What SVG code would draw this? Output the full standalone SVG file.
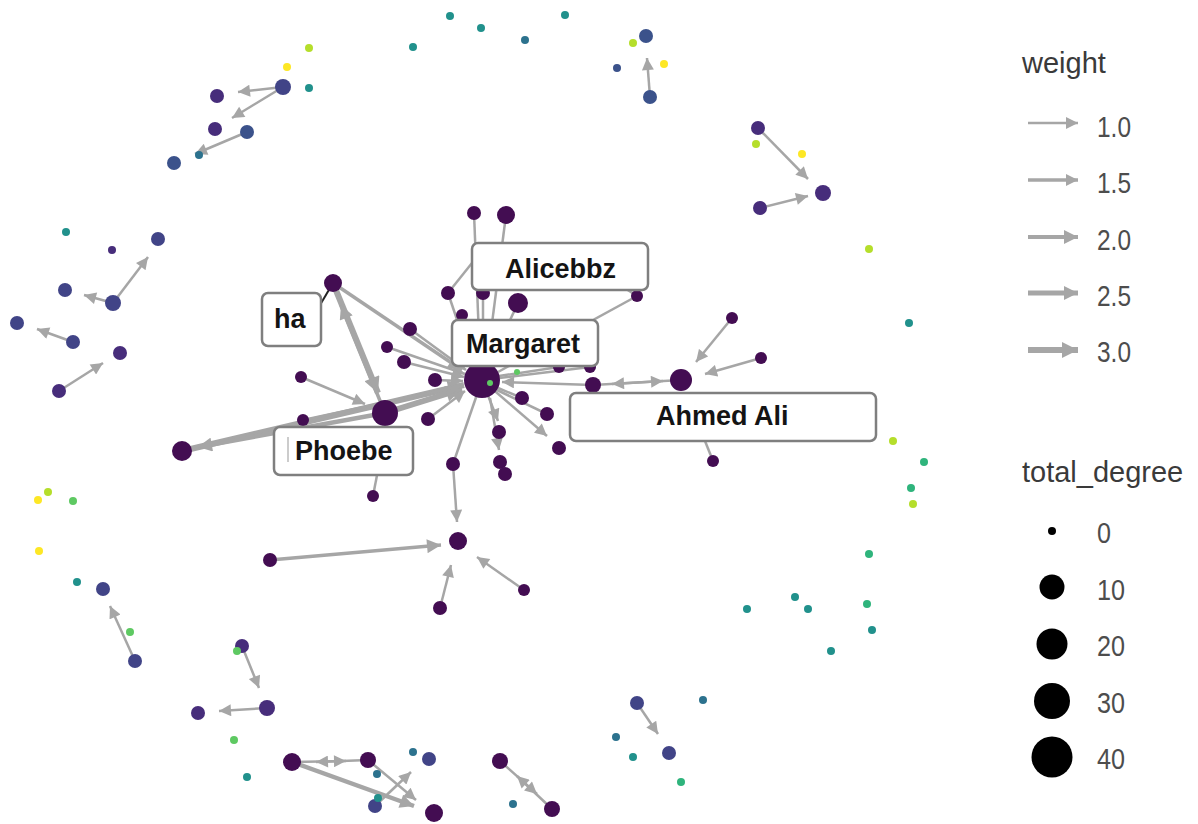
<svg xmlns="http://www.w3.org/2000/svg" width="1198" height="824" viewBox="0 0 1198 824">
<style>
.e{stroke:#a6a6a6;fill:none;stroke-linecap:butt}
.w1{stroke-width:2.5}
.w2{stroke-width:3.5}
.w3{stroke-width:4.5}
.w4{stroke-width:6}
.dp{fill:#430d52}
.pb{fill:#472d7b}
.b2{fill:#414487}
.bl{fill:#3b528b}
.tb{fill:#2c728e}
.tl{fill:#21918c}
.gt{fill:#2fb47c}
.gr{fill:#5ec962}
.yg{fill:#b5de2b}
.yl{fill:#fde725}
.lbl rect{fill:#fff;stroke:#7f7f7f;stroke-width:2.5}
.lbl text{font-family:"Liberation Sans",Arial,sans-serif;font-weight:bold;font-size:27px;fill:#141414}
.lt{font-family:"Liberation Sans",Arial,sans-serif;font-size:29px;fill:#3a3a3a}
.lv{font-family:"Liberation Sans",Arial,sans-serif;font-size:29px;fill:#4d4d4d}
</style>
<defs>
<marker id="a1" viewBox="0 0 10 10" refX="10" refY="5" markerWidth="13" markerHeight="12" markerUnits="userSpaceOnUse" orient="auto"><path d="M0,0 L10,5 L0,10 Z" fill="#a6a6a6"/></marker>
<marker id="a2" viewBox="0 0 10 10" refX="10" refY="5" markerWidth="15" markerHeight="14" markerUnits="userSpaceOnUse" orient="auto"><path d="M0,0 L10,5 L0,10 Z" fill="#a6a6a6"/></marker>
<marker id="a3" viewBox="0 0 10 10" refX="10" refY="5" markerWidth="17" markerHeight="16" markerUnits="userSpaceOnUse" orient="auto"><path d="M0,0 L10,5 L0,10 Z" fill="#a6a6a6"/></marker>
</defs>
<rect width="1198" height="824" fill="#fff"/>
<g id="edges">
<line class="e w1" x1="283" y1="87" x2="238" y2="92" marker-end="url(#a1)"/>
<line class="e w1" x1="283" y1="87" x2="232" y2="118" marker-end="url(#a1)"/>
<line class="e w1" x1="247" y1="132" x2="195" y2="154" marker-end="url(#a1)"/>
<line class="e w1" x1="650" y1="97" x2="647" y2="58" marker-end="url(#a1)"/>
<line class="e w1" x1="758" y1="128" x2="808" y2="179" marker-end="url(#a1)"/>
<line class="e w1" x1="760" y1="208" x2="808" y2="196" marker-end="url(#a1)"/>
<line class="e w1" x1="113" y1="303" x2="148" y2="257" marker-end="url(#a1)"/>
<line class="e w1" x1="113" y1="303" x2="84" y2="295" marker-end="url(#a1)"/>
<line class="e w1" x1="73" y1="342" x2="37" y2="329" marker-end="url(#a1)"/>
<line class="e w1" x1="59" y1="391" x2="103" y2="363" marker-end="url(#a1)"/>
<line class="e w1" x1="135" y1="661" x2="110" y2="606" marker-end="url(#a1)"/>
<line class="e w1" x1="242" y1="646" x2="259" y2="688" marker-end="url(#a1)"/>
<line class="e w1" x1="267" y1="708" x2="219" y2="711" marker-end="url(#a1)"/>
<line class="e w1" x1="368" y1="760" x2="316" y2="762" marker-end="url(#a1)"/>
<line class="e w1" x1="292" y1="762" x2="346" y2="761" marker-end="url(#a1)"/>
<line class="e w3" x1="292" y1="762" x2="414" y2="806" marker-end="url(#a2)"/>
<line class="e w1" x1="368" y1="760" x2="416" y2="800" marker-end="url(#a1)"/>
<line class="e w1" x1="375" y1="806" x2="411" y2="772" marker-end="url(#a1)"/>
<line class="e w1" x1="500" y1="761" x2="537" y2="794" marker-end="url(#a1)"/>
<line class="e w1" x1="552" y1="809" x2="517" y2="776" marker-end="url(#a1)"/>
<line class="e w1" x1="637" y1="703" x2="658" y2="734" marker-end="url(#a1)"/>
<line class="e w2" x1="270" y1="560" x2="441" y2="545" marker-end="url(#a2)"/>
<line class="e w1" x1="440" y1="608" x2="451" y2="565" marker-end="url(#a1)"/>
<line class="e w1" x1="524" y1="590" x2="477" y2="557" marker-end="url(#a1)"/>
<line class="e w1" x1="482" y1="380" x2="453" y2="464"/>
<line class="e w1" x1="453" y1="464" x2="457" y2="522" marker-end="url(#a1)"/>
<line class="e w1" x1="732" y1="318" x2="696" y2="362" marker-end="url(#a1)"/>
<line class="e w1" x1="761" y1="358" x2="705" y2="374" marker-end="url(#a1)"/>
<line class="e w1" x1="593" y1="385" x2="663" y2="381" marker-end="url(#a1)"/>
<line class="e w1" x1="681" y1="380" x2="612" y2="384" marker-end="url(#a1)"/>
<line class="e w4" x1="333" y1="283" x2="378" y2="393" marker-end="url(#a3)"/>
<line class="e w2" x1="385" y1="413" x2="341" y2="305" marker-end="url(#a2)"/>
<line class="e w2" x1="333" y1="283" x2="462" y2="370" marker-end="url(#a2)"/>
<line class="e w4" x1="182" y1="451" x2="464" y2="385" marker-end="url(#a3)"/>
<line class="e w3" x1="385" y1="413" x2="198" y2="447" marker-end="url(#a2)"/>
<line class="e w4" x1="385" y1="413" x2="462" y2="389" marker-end="url(#a3)"/>
<line class="e w1" x1="301" y1="377" x2="365" y2="404" marker-end="url(#a1)"/>
<line class="e w1" x1="303" y1="420" x2="462" y2="386" marker-end="url(#a1)"/>
<line class="e w1" x1="410" y1="329" x2="466" y2="370" marker-end="url(#a1)"/>
<line class="e w1" x1="387" y1="347" x2="465" y2="374" marker-end="url(#a1)"/>
<line class="e w1" x1="404" y1="362" x2="464" y2="377" marker-end="url(#a1)"/>
<line class="e w1" x1="435" y1="380" x2="463" y2="381" marker-end="url(#a1)"/>
<line class="e w1" x1="428" y1="419" x2="465" y2="391" marker-end="url(#a1)"/>
<line class="e w1" x1="448" y1="293" x2="472" y2="263"/>
<line class="e w1" x1="448" y1="293" x2="472" y2="364" marker-end="url(#a1)"/>
<line class="e w1" x1="474" y1="213" x2="480" y2="362" marker-end="url(#a1)"/>
<line class="e w1" x1="506" y1="215" x2="487" y2="362" marker-end="url(#a1)"/>
<line class="e w1" x1="518" y1="303" x2="490" y2="363"/>
<line class="e w1" x1="462" y1="315" x2="478" y2="363"/>
<line class="e w1" x1="483" y1="293" x2="483" y2="362"/>
<line class="e w1" x1="637" y1="296" x2="498" y2="372"/>
<line class="e w1" x1="637" y1="296" x2="623" y2="287"/>
<line class="e w1" x1="559" y1="367" x2="499" y2="376"/>
<line class="e w1" x1="590" y1="367" x2="499" y2="378"/>
<line class="e w1" x1="593" y1="385" x2="502" y2="382" marker-end="url(#a1)"/>
<line class="e w1" x1="522" y1="398" x2="498" y2="388"/>
<line class="e w1" x1="547" y1="414" x2="497" y2="390"/>
<line class="e w1" x1="482" y1="380" x2="547" y2="436" marker-end="url(#a1)"/>
<line class="e w1" x1="482" y1="380" x2="498" y2="421" marker-end="url(#a1)"/>
<line class="e w1" x1="490" y1="398" x2="499" y2="450" marker-end="url(#a1)"/>
<line class="e w1" x1="373" y1="496" x2="378" y2="470"/>
<line class="e w1" x1="713" y1="461" x2="705" y2="441"/>
<line x1="333" y1="283" x2="320" y2="305" stroke="#222" stroke-width="2"/>
</g>
<g id="nodes">
<g id="n1"><circle class="tl" cx="450" cy="16" r="4"/></g>
<g id="n2"><circle class="tl" cx="565" cy="15" r="4"/></g>
<g id="n3"><circle class="tl" cx="481" cy="28" r="4"/></g>
<g id="n4"><circle class="tl" cx="413" cy="47" r="4"/></g>
<g id="n5"><circle class="tb" cx="525" cy="40" r="4"/></g>
<g id="n6"><circle class="yg" cx="309" cy="48" r="4"/></g>
<g id="n7"><circle class="yl" cx="287" cy="67" r="4"/></g>
<g id="n8"><circle class="b2" cx="283" cy="87" r="8"/></g>
<g id="n9"><circle class="tl" cx="309" cy="88" r="4"/></g>
<g id="n10"><circle class="pb" cx="217" cy="96" r="7"/></g>
<g id="n11"><circle class="pb" cx="215" cy="129" r="7"/></g>
<g id="n12"><circle class="bl" cx="247" cy="132" r="7"/></g>
<g id="n13"><circle class="tb" cx="199" cy="155" r="4"/></g>
<g id="n14"><circle class="bl" cx="174" cy="163" r="7"/></g>
<g id="n15"><circle class="bl" cx="646" cy="36" r="7"/></g>
<g id="n16"><circle class="yg" cx="633" cy="43" r="4"/></g>
<g id="n17"><circle class="bl" cx="617" cy="68" r="4"/></g>
<g id="n18"><circle class="yl" cx="664" cy="64" r="4"/></g>
<g id="n19"><circle class="bl" cx="650" cy="97" r="7"/></g>
<g id="n20"><circle class="pb" cx="758" cy="128" r="7"/></g>
<g id="n21"><circle class="yg" cx="756" cy="144" r="4"/></g>
<g id="n22"><circle class="yl" cx="802" cy="154" r="4"/></g>
<g id="n23"><circle class="pb" cx="823" cy="193" r="8"/></g>
<g id="n24"><circle class="pb" cx="760" cy="208" r="7"/></g>
<g id="n25"><circle class="yg" cx="869" cy="249" r="4"/></g>
<g id="n26"><circle class="tl" cx="66" cy="232" r="4"/></g>
<g id="n27"><circle class="pb" cx="112" cy="250" r="4"/></g>
<g id="n28"><circle class="b2" cx="158" cy="239" r="7"/></g>
<g id="n29"><circle class="b2" cx="65" cy="290" r="7"/></g>
<g id="n30"><circle class="b2" cx="113" cy="303" r="8"/></g>
<g id="n31"><circle class="b2" cx="17" cy="323" r="7"/></g>
<g id="n32"><circle class="b2" cx="73" cy="342" r="7"/></g>
<g id="n33"><circle class="pb" cx="120" cy="353" r="7"/></g>
<g id="n34"><circle class="pb" cx="59" cy="391" r="7"/></g>
<g id="n35"><circle class="dp" cx="182" cy="451" r="10"/></g>
<g id="n36"><circle class="yg" cx="48" cy="492" r="4"/></g>
<g id="n37"><circle class="yl" cx="38" cy="500" r="4"/></g>
<g id="n38"><circle class="gr" cx="73" cy="501" r="4"/></g>
<g id="n39"><circle class="yl" cx="39" cy="551" r="4"/></g>
<g id="n40"><circle class="tl" cx="77" cy="582" r="4"/></g>
<g id="n41"><circle class="b2" cx="103" cy="589" r="7"/></g>
<g id="n42"><circle class="gr" cx="130" cy="632" r="4"/></g>
<g id="n43"><circle class="b2" cx="135" cy="661" r="7"/></g>
<g id="n44"><circle class="pb" cx="242" cy="646" r="7"/></g>
<g id="n45"><circle class="gr" cx="237" cy="651" r="4"/></g>
<g id="n46"><circle class="pb" cx="267" cy="708" r="8"/></g>
<g id="n47"><circle class="pb" cx="198" cy="713" r="7"/></g>
<g id="n48"><circle class="gr" cx="234" cy="740" r="4"/></g>
<g id="n49"><circle class="tl" cx="247" cy="777" r="4"/></g>
<g id="n50"><circle class="dp" cx="292" cy="762" r="9"/></g>
<g id="n51"><circle class="dp" cx="368" cy="760" r="8"/></g>
<g id="n52"><circle class="tb" cx="413" cy="752" r="4"/></g>
<g id="n53"><circle class="b2" cx="429" cy="759" r="7"/></g>
<g id="n54"><circle class="tb" cx="377" cy="774" r="4"/></g>
<g id="n55"><circle class="b2" cx="375" cy="806" r="7"/></g>
<g id="n56"><circle class="tl" cx="378" cy="798" r="4"/></g>
<g id="n57"><circle class="dp" cx="434" cy="813" r="9"/></g>
<g id="n58"><circle class="dp" cx="500" cy="761" r="8"/></g>
<g id="n59"><circle class="dp" cx="552" cy="809" r="8"/></g>
<g id="n60"><circle class="tb" cx="513" cy="804" r="4"/></g>
<g id="n61"><circle class="dp" cx="440" cy="608" r="7"/></g>
<g id="n62"><circle class="b2" cx="637" cy="703" r="7"/></g>
<g id="n63"><circle class="tb" cx="703" cy="700" r="4"/></g>
<g id="n64"><circle class="tb" cx="616" cy="737" r="4"/></g>
<g id="n65"><circle class="tl" cx="633" cy="757" r="4"/></g>
<g id="n66"><circle class="b2" cx="669" cy="753" r="7"/></g>
<g id="n67"><circle class="gt" cx="681" cy="782" r="4"/></g>
<g id="n68"><circle class="tl" cx="909" cy="323" r="4"/></g>
<g id="n69"><circle class="yg" cx="893" cy="441" r="4"/></g>
<g id="n70"><circle class="gt" cx="924" cy="462" r="4"/></g>
<g id="n71"><circle class="gt" cx="911" cy="488" r="4"/></g>
<g id="n72"><circle class="yg" cx="913" cy="504" r="4"/></g>
<g id="n73"><circle class="gt" cx="869" cy="554" r="4"/></g>
<g id="n74"><circle class="tl" cx="795" cy="597" r="4"/></g>
<g id="n75"><circle class="tl" cx="747" cy="609" r="4"/></g>
<g id="n76"><circle class="tl" cx="808" cy="609" r="4"/></g>
<g id="n77"><circle class="gt" cx="867" cy="604" r="4"/></g>
<g id="n78"><circle class="tl" cx="872" cy="630" r="4"/></g>
<g id="n79"><circle class="tl" cx="831" cy="651" r="4"/></g>
<g id="n80"><circle class="dp" cx="474" cy="213" r="7"/></g>
<g id="n81"><circle class="dp" cx="506" cy="215" r="9"/></g>
<g id="n82"><circle class="dp" cx="448" cy="293" r="7"/></g>
<g id="n83"><circle class="dp" cx="483" cy="293" r="7"/></g>
<g id="n84"><circle class="dp" cx="518" cy="303" r="10"/></g>
<g id="n85"><circle class="dp" cx="462" cy="315" r="6"/></g>
<g id="n86"><circle class="dp" cx="637" cy="296" r="6"/></g>
<g id="n87"><circle class="dp" cx="333" cy="283" r="9"/></g>
<g id="n88"><circle class="dp" cx="410" cy="329" r="7"/></g>
<g id="n89"><circle class="dp" cx="387" cy="347" r="6"/></g>
<g id="n90"><circle class="dp" cx="404" cy="362" r="7"/></g>
<g id="n91"><circle class="dp" cx="301" cy="377" r="6"/></g>
<g id="n92"><circle class="dp" cx="435" cy="380" r="7"/></g>
<g id="n93"><circle class="dp" cx="559" cy="367" r="6"/></g>
<g id="n94"><circle class="dp" cx="590" cy="367" r="6"/></g>
<g id="n95"><circle class="dp" cx="593" cy="385" r="8"/></g>
<g id="n96"><circle class="dp" cx="681" cy="380" r="11"/></g>
<g id="n97"><circle class="dp" cx="732" cy="318" r="6"/></g>
<g id="n98"><circle class="dp" cx="761" cy="358" r="6"/></g>
<g id="n99"><circle class="dp" cx="385" cy="413" r="13"/></g>
<g id="n100"><circle class="dp" cx="303" cy="420" r="6"/></g>
<g id="n101"><circle class="dp" cx="428" cy="419" r="7"/></g>
<g id="n102"><circle class="dp" cx="522" cy="398" r="7"/></g>
<g id="n103"><circle class="dp" cx="547" cy="414" r="7"/></g>
<g id="n104"><circle class="dp" cx="559" cy="448" r="7"/></g>
<g id="n105"><circle class="dp" cx="499" cy="432" r="7"/></g>
<g id="n106"><circle class="dp" cx="500" cy="462" r="7"/></g>
<g id="n107"><circle class="dp" cx="505" cy="474" r="7"/></g>
<g id="n108"><circle class="dp" cx="453" cy="464" r="7"/></g>
<g id="n109"><circle class="dp" cx="713" cy="461" r="6"/></g>
<g id="n110"><circle class="dp" cx="373" cy="496" r="6"/></g>
<g id="n111"><circle class="dp" cx="458" cy="541" r="9"/></g>
<g id="n112"><circle class="dp" cx="270" cy="560" r="7"/></g>
<g id="n113"><circle class="dp" cx="524" cy="590" r="6"/></g>
<g id="n114"><circle class="dp" cx="482" cy="380" r="18"/></g>
<g id="n115"><circle class="gr" cx="490" cy="383" r="3"/></g>
<g id="n116"><circle class="gr" cx="517" cy="372" r="3"/></g>
</g>
<g id="labels">
<g id="lb-alicebbz" class="lbl"><rect x="472" y="243" width="176" height="47" rx="6"/><text x="505" y="278">Alicebbz</text></g>
<g id="lb-margaret" class="lbl"><rect x="452" y="320" width="146" height="46" rx="6"/><text x="466" y="353">Margaret</text></g>
<g id="lb-ha" class="lbl"><rect x="262" y="293" width="59" height="53" rx="6"/><text x="274" y="328">ha</text></g>
<g id="lb-phoebe" class="lbl"><rect x="274" y="427" width="139" height="48" rx="6"/><line x1="288" y1="437" x2="288" y2="462" stroke="#999" stroke-width="1"/><text x="295" y="460">Phoebe</text></g>
<g id="lb-ahmed" class="lbl"><rect x="570" y="393" width="306" height="48" rx="6"/><text x="656" y="425">Ahmed Ali</text></g>
</g>
<g id="legend-weight">
<text class="lt" x="1022" y="73">weight</text>
<line class="e" x1="1028" y1="123" x2="1078" y2="123" stroke-width="2.4" marker-end="url(#a1)"/>
<line class="e" x1="1028" y1="180" x2="1078" y2="180" stroke-width="3.3" marker-end="url(#a1)"/>
<line class="e" x1="1028" y1="237" x2="1078" y2="237" stroke-width="4.2" marker-end="url(#a2)"/>
<line class="e" x1="1028" y1="293" x2="1078" y2="293" stroke-width="5.1" marker-end="url(#a2)"/>
<line class="e" x1="1028" y1="350" x2="1078" y2="350" stroke-width="6" marker-end="url(#a3)"/>
<text class="lv" x="1097" y="137" textLength="34" lengthAdjust="spacingAndGlyphs">1.0</text>
<text class="lv" x="1097" y="193" textLength="34" lengthAdjust="spacingAndGlyphs">1.5</text>
<text class="lv" x="1097" y="250" textLength="34" lengthAdjust="spacingAndGlyphs">2.0</text>
<text class="lv" x="1097" y="306" textLength="34" lengthAdjust="spacingAndGlyphs">2.5</text>
<text class="lv" x="1097" y="362" textLength="34" lengthAdjust="spacingAndGlyphs">3.0</text>
</g>
<g id="legend-degree">
<text class="lt" x="1022" y="482">total_degree</text>
<circle cx="1052" cy="531" r="4" fill="#000"/>
<circle cx="1052" cy="587" r="12.5" fill="#000"/>
<circle cx="1052" cy="644" r="15.5" fill="#000"/>
<circle cx="1052" cy="701" r="18" fill="#000"/>
<circle cx="1052" cy="757" r="20.5" fill="#000"/>
<text class="lv" x="1097" y="543" textLength="14" lengthAdjust="spacingAndGlyphs">0</text>
<text class="lv" x="1097" y="600" textLength="28" lengthAdjust="spacingAndGlyphs">10</text>
<text class="lv" x="1097" y="656" textLength="28" lengthAdjust="spacingAndGlyphs">20</text>
<text class="lv" x="1097" y="713" textLength="28" lengthAdjust="spacingAndGlyphs">30</text>
<text class="lv" x="1097" y="769" textLength="28" lengthAdjust="spacingAndGlyphs">40</text>
</g>
</svg>
